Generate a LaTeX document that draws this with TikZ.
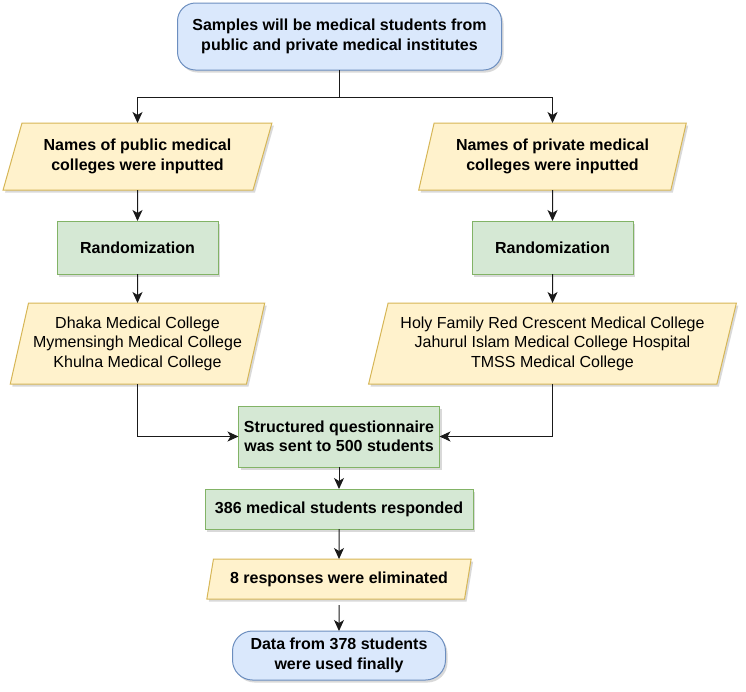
\documentclass[tikz,border=0pt]{standalone}
\usepackage{fontspec}
\setmainfont{Liberation Sans}
\usetikzlibrary{shapes.geometric,arrows.meta,shadows}
\definecolor{bluefill}{HTML}{DAE8FC}
\definecolor{blueline}{HTML}{6C8EBF}
\definecolor{yelfill}{HTML}{FFF2CC}
\definecolor{yelline}{HTML}{D6B656}
\definecolor{grnfill}{HTML}{D5E8D4}
\definecolor{grnline}{HTML}{82B366}
\definecolor{linec}{HTML}{1A1A1A}
\begin{document}
\begin{tikzpicture}[x=1pt,y=-1pt,
  base/.style={inner sep=0pt,outer sep=0pt,align=center,line width=1pt,text=black,
    font=\fontsize{16}{19.5}\selectfont,
    drop shadow={shadow xshift=2pt,shadow yshift=-2.5pt,opacity=0.25,fill=black!60}},
  termbox/.style={base,rectangle,rounded corners=18pt,fill=bluefill,draw=blueline,font=\bfseries\fontsize{16}{19.5}\selectfont},
  procbox/.style={base,rectangle,fill=grnfill,draw=grnline,font=\bfseries\fontsize{16}{19.5}\selectfont},
  iobox/.style={base,trapezium,trapezium stretches=true,fill=yelfill,draw=yelline,
    trapezium left angle=#1,trapezium right angle=180-#1},
  boldtxt/.style={font=\bfseries\fontsize{16}{19.5}\selectfont},
  conn/.style={draw=linec,line width=1pt},
  arr/.style={conn,-{Stealth[length=11pt,width=10pt,inset=3pt]}}
]
\useasboundingbox (0,0) rectangle (746,691);

\node[termbox,minimum width=324pt,minimum height=67pt] (top) at (339.5,36.5)
  {Samples will be medical students from\\public and private medical institutes};

\node[iobox=66,boldtxt,minimum width=269pt,minimum height=67pt] (pubin) at (137.5,156.5)
  {Names of public medical\\colleges were inputted};
\node[iobox=70,boldtxt,minimum width=268pt,minimum height=67pt] (privin) at (552.5,156.5)
  {Names of private medical\\colleges were inputted};

\node[procbox,minimum width=161pt,minimum height=53pt] (rand1) at (137.5,247.5) {Randomization};
\node[procbox,minimum width=161pt,minimum height=53pt] (rand2) at (552.5,247.5) {Randomization};

\node[iobox=72,minimum width=255pt,minimum height=81pt] (pubcol) at (137.5,343.5)
  {Dhaka Medical College\\Mymensingh Medical College\\Khulna Medical College};
\node[iobox=71.5,minimum width=369pt,minimum height=81pt] (privcol) at (552.5,343.5)
  {Holy Family Red Crescent Medical College\\Jahurul Islam Medical College Hospital\\TMSS Medical College};

\node[procbox,minimum width=201pt,minimum height=61pt] (quest) at (339,436.5)
  {Structured questionnaire\\was sent to 500 students};
\node[procbox,minimum width=268pt,minimum height=40pt] (resp) at (339,509)
  {386 medical students responded};
\node[iobox=69,boldtxt,minimum width=265pt,minimum height=40pt] (elim) at (339,579)
  {8 responses were eliminated};
\node[termbox,rounded corners=20pt,minimum width=213pt,minimum height=49pt] (data) at (339,655.5)
  {Data from 378 students\\were used finally};

\coordinate (split) at (top.south |- 0,97);
\draw[conn] (top.south) -- (split);
\draw[arr] (split) -| (pubin.north);
\draw[arr] (split) -| (privin.north);
\draw[arr] (pubin.south) -- (rand1.north);
\draw[arr] (privin.south) -- (rand2.north);
\draw[arr] (rand1.south) -- (pubcol.north);
\draw[arr] (rand2.south) -- (privcol.north);
\draw[arr] (pubcol.south) |- (quest.west);
\draw[arr] (privcol.south) |- (quest.east);
\draw[arr] (quest.south) -- (resp.north);
\draw[arr] (resp.south) -- (elim.north);
\draw[arr,shorten <=6pt] (elim.south) -- (data.north);
\end{tikzpicture}
\end{document}
